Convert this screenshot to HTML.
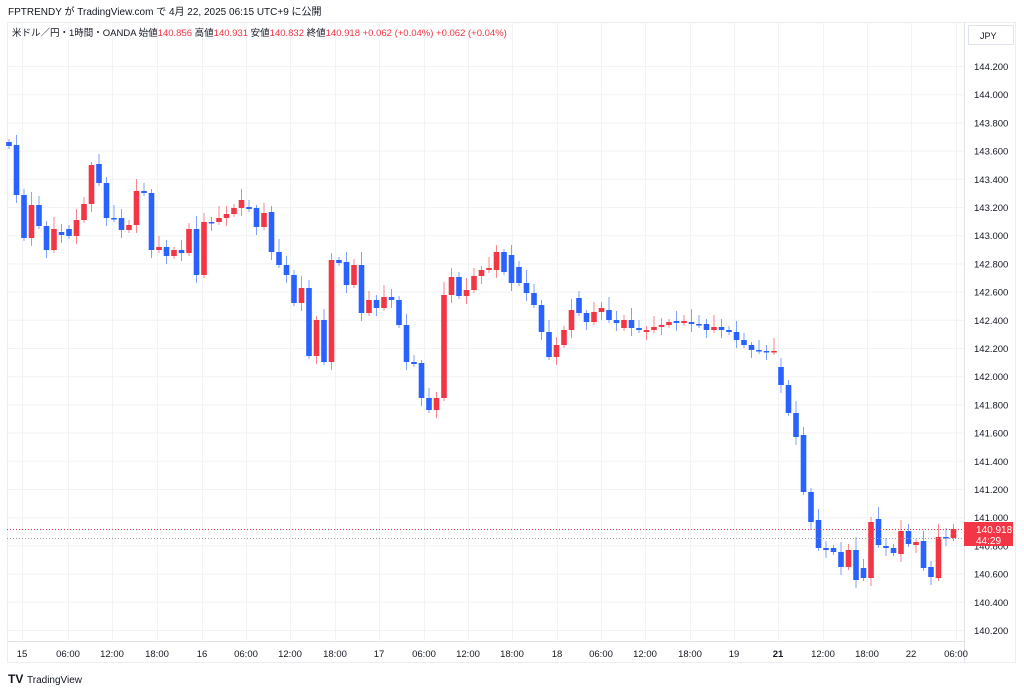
<!DOCTYPE html>
<html><head><meta charset="utf-8"><style>
body{margin:0;background:#fff;width:1024px;height:691px;overflow:hidden;font-family:"Liberation Sans","Noto Sans CJK JP",sans-serif;}
svg text{font-family:"Liberation Sans","Noto Sans CJK JP",sans-serif;}
</style></head><body>
<svg id="s" width="1024" height="691" xmlns="http://www.w3.org/2000/svg">
<text x="8" y="15" font-size="10" fill="#131722">FPTRENDY が TradingView.com で 4月 22, 2025 06:15 UTC+9 に公開</text>
<rect x="7.5" y="22.5" width="1008" height="640" fill="none" stroke="#eceef2"/>
<line x1="964.5" y1="22" x2="964.5" y2="663" stroke="#e0e3eb"/>
<line x1="7" y1="641.5" x2="964" y2="641.5" stroke="#e0e3eb"/>
<g id="grid"></g>
<g id="c"></g>
<text x="12" y="36" font-size="9.5" fill="#131722">米ドル／円・1時間・OANDA  始値<tspan fill="#f23645">140.856</tspan>  高値<tspan fill="#f23645">140.931</tspan>  安値<tspan fill="#f23645">140.832</tspan>  終値<tspan fill="#f23645">140.918  +0.062 (+0.04%)  +0.062 (+0.04%)</tspan></text>
<rect x="968.5" y="25.5" width="45" height="19" fill="#fff" stroke="#e0e3eb"/>
<text x="980" y="39" font-size="9" fill="#131722">JPY</text>
<line x1="7" y1="529.5" x2="964" y2="529.5" stroke="#f23645" stroke-dasharray="1,2"/>
<line x1="7" y1="538.5" x2="964" y2="538.5" stroke="#9598a1" stroke-dasharray="1,2"/>
<rect x="964" y="522" width="49" height="24" fill="#f23645"/>
<text x="976" y="533" font-size="10" fill="#fff">140.918</text>
<text x="976" y="544" font-size="10" fill="#fff">44:29</text>
<text x="8" y="683" font-size="12" font-weight="bold" fill="#131722">TV</text>
<text x="27" y="683" font-size="10" fill="#131722">TradingView</text>
</svg>
<script>
var ns="http://www.w3.org/2000/svg";
function el(p,t,a,tx){var e=document.createElementNS(ns,t);for(var k in a)e.setAttribute(k,a[k]);if(tx)e.textContent=tx;p.appendChild(e);return e;}
var g=document.getElementById('grid');
for(var i=0;i<=20;i++){var p=144.2-i*0.2;var y=66+i*28.2;
 if(y<640) el(g,'line',{x1:7,x2:964,y1:y+0.5,y2:y+0.5,stroke:'#f2f3f5'});
 if(!(Math.abs(p-140.8)<0.01)) el(g,'text',{x:974,y:y+4,'font-size':9.5,fill:'#131722'},p.toFixed(3)); else el(g,'text',{x:974,y:y+4,'font-size':9.5,fill:'#131722'},p.toFixed(3));}
var xs=[22,68,112,157,202,246,290,335,379,424,468,512,557,601,645,690,734,778,823,867,911,956];
var lb=['15','06:00','12:00','18:00','16','06:00','12:00','18:00','17','06:00','12:00','18:00','18','06:00','12:00','18:00','19','21','12:00','18:00','22','06:00'];
xs.forEach(function(x,i){el(g,'line',{x1:x+0.5,x2:x+0.5,y1:23,y2:641,stroke:'#f2f3f5'});
 el(g,'text',{x:x,y:657,'font-size':9.5,fill:'#131722','text-anchor':'middle','font-weight':lb[i]=='21'?'bold':'normal'},lb[i]);});
var d=[[142,146],[145,195],[195,238],[238,205],[205,226],[226,250],[250,229],[232,235],[229,236],[236,220],[220,204],[204,165],[164,183],[183,218],[218,219],[218,230],[230,225],[225,191],[191,193],[193,250],[250,247],[247,256],[256,250],[250,253],[253,229],[229,275],[275,222],[222,223],[222,218],[218,214],[214,208],[208,200],[207,209],[208,227],[227,213],[212,252],[252,265],[265,275],[275,303],[303,288],[288,356],[356,320],[320,362],[362,260],[260,263],[262,285],[285,265],[265,313],[313,300],[300,308],[308,297],[297,300],[300,325],[325,362],[362,364],[363,398],[398,410],[410,398],[398,295],[295,277],[277,296],[296,290],[290,276],[276,270],[270,268],[270,252],[252,272],[255,283],[267,283],[283,293],[293,305],[305,332],[332,357],[357,345],[345,330],[330,310],[298,313],[313,322],[322,312],[312,308],[310,320],[320,323],[328,320],[320,328],[328,330],[332,330],[330,327],[327,325],[325,322],[321,323],[323,321],[322,324],[324,325],[324,330],[330,327],[327,330],[330,332],[332,340],[340,345],[345,350],[350,351],[351,352],[352,351],[367,385],[385,413],[413,437],[435,492],[492,522],[520,548],[548,550],[548,552],[552,567],[567,550],[550,580],[568,578],[578,522],[519,545],[546,548],[548,553],[554,531],[531,544],[545,542],[541,568],[567,577],[578,537],[537,538],[538,529]];
var c=document.getElementById('c');
d.forEach(function(v,i){var x=9+i*7.5;if(i>102)x=781+(i-103)*7.5;var o=v[0],cl=v[1];var up=cl<o;var col=up?'#f23645':'#2962ff';
 var t=Math.min(o,cl),b=Math.max(o,cl);var hi=t-(3+(i*7)%11),lo=b+(3+(i*5)%10);
 el(c,'line',{x1:x,x2:x,y1:hi,y2:lo,stroke:col,'stroke-opacity':0.6});
 el(c,'rect',{x:x-2.8,y:t,width:5.6,height:Math.max(1.5,b-t),fill:col});});
</script>
</body></html>
